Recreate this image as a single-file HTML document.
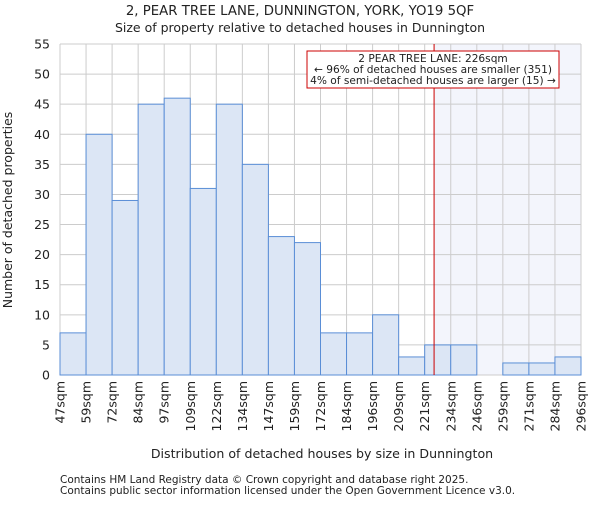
<!DOCTYPE html>
<html><head><meta charset="utf-8"><style>
body{margin:0;background:#fff;}
svg text{font-family:"DejaVu Sans","Liberation Sans",sans-serif;fill:#222;}
</style></head><body>
<svg id="chart" width="600" height="500" xmlns="http://www.w3.org/2000/svg">
<text x="300" y="15" font-size="13.3" text-anchor="middle">2, PEAR TREE LANE, DUNNINGTON, YORK, YO19 5QF</text>
<text x="300" y="32" font-size="12.5" text-anchor="middle">Size of property relative to detached houses in Dunnington</text>
<g id="plot"></g>
<text x="322" y="458" font-size="12.6" text-anchor="middle">Distribution of detached houses by size in Dunnington</text>
<text transform="translate(12,210) rotate(-90)" font-size="12.5" text-anchor="middle">Number of detached properties</text>
<text x="60" y="483" font-size="10.5">Contains HM Land Registry data © Crown copyright and database right 2025.</text>
<text x="60" y="494" font-size="10.5">Contains public sector information licensed under the Open Government Licence v3.0.</text>
</svg>
<script>
const categories=["47sqm","59sqm","72sqm","84sqm","97sqm","109sqm","122sqm","134sqm","147sqm","159sqm","172sqm","184sqm","196sqm","209sqm","221sqm","234sqm","246sqm","259sqm","271sqm","284sqm","296sqm"];
const values=[7,40,29,45,46,31,45,35,23,22,7,7,10,3,5,5,0,2,2,3];
const yTicks=[0,5,10,15,20,25,30,35,40,45,50,55];
const markerBin=14.36;
const NS="http://www.w3.org/2000/svg";
const L=60,R=581,T=44,B=375,yMax=55;
const bw=(R-L)/values.length;
const x=i=>L+i*bw;
const y=v=>B-(v/yMax)*(B-T);
const g=document.getElementById('plot');
function el(t,a){const e=document.createElementNS(NS,t);for(const k in a)e.setAttribute(k,a[k]);g.appendChild(e);return e;}
const mx=x(markerBin);
let e=el('rect',{x:mx,y:T,width:R-mx,height:B-T,fill:'#f3f5fc'});


yTicks.forEach(t=>{
 let l=el('line',{x1:L,x2:R,y1:y(t),y2:y(t),stroke:'#cccccc','stroke-width':1});
 
 
 let tx=el('text',{x:L-10,y:y(t)+4.5,'font-size':'12.5','text-anchor':'end'});tx.textContent=t;
 
 
});
categories.forEach((c,i)=>{
 let l=el('line',{x1:x(i),x2:x(i),y1:T,y2:B,stroke:'#cccccc','stroke-width':1});
 
 
 let tx=el('text',{transform:`translate(${x(i)+4.5},381) rotate(-90)`,'font-size':'12.5','text-anchor':'end'});tx.textContent=c;
 
 
});
values.forEach((v,i)=>{
 if(v<=0)return;
 let r=el('rect',{x:x(i),y:y(v),width:bw,height:B-y(v),fill:'#dce6f5',stroke:'#5a8ed6','stroke-width':1});
 
 
});
e=el('line',{x1:mx,x2:mx,y1:T,y2:B,stroke:'#cc0000','stroke-width':1});


e=el('rect',{x:307,y:51,width:252,height:37,fill:'#fff',stroke:'#cc0000','stroke-width':1});


["2 PEAR TREE LANE: 226sqm","← 96% of detached houses are smaller (351)","4% of semi-detached houses are larger (15) →"].forEach((s,k)=>{
 let tx=el('text',{x:433,y:62+k*11,'font-size':'10.6','text-anchor':'middle'});tx.textContent=s;
 
 
});
</script>
</body></html>
